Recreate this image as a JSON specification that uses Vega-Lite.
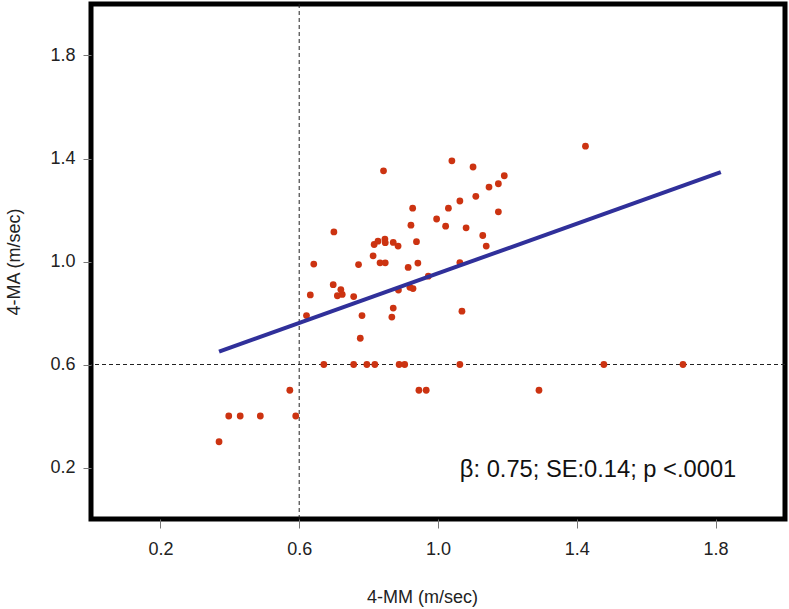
{
  "$schema": "https://vega.github.io/schema/vega-lite/v6.json",
  "width": 694,
  "height": 515,
  "autosize": {"type": "none"},
  "padding": {"left": 91, "top": 4, "right": 4, "bottom": 90},
  "background": "white",
  "config": {
    "view": {"stroke": "black", "strokeWidth": 5},
    "font": "Liberation Sans",
    "axis": {
      "domain": false,
      "grid": false,
      "tickColor": "#777",
      "tickWidth": 1,
      "labelFont": "Liberation Sans",
      "labelFontSize": 18,
      "labelColor": "#222",
      "titleFont": "Liberation Sans",
      "titleFontSize": 18,
      "titleFontWeight": "normal",
      "titleColor": "#222"
    }
  },
  "datasets": {
    "pts": [
      {"mm": 0.369, "ma": 0.30}, {"mm": 0.397, "ma": 0.40}, {"mm": 0.430, "ma": 0.40}, {"mm": 0.488, "ma": 0.40},
      {"mm": 0.573, "ma": 0.50}, {"mm": 0.590, "ma": 0.40}, {"mm": 0.621, "ma": 0.79}, {"mm": 0.632, "ma": 0.87},
      {"mm": 0.642, "ma": 0.99}, {"mm": 0.671, "ma": 0.60}, {"mm": 0.698, "ma": 0.91}, {"mm": 0.700, "ma": 1.115},
      {"mm": 0.710, "ma": 0.867}, {"mm": 0.720, "ma": 0.891}, {"mm": 0.724, "ma": 0.872}, {"mm": 0.757, "ma": 0.60},
      {"mm": 0.757, "ma": 0.864}, {"mm": 0.771, "ma": 0.988}, {"mm": 0.776, "ma": 0.702}, {"mm": 0.781, "ma": 0.790},
      {"mm": 0.795, "ma": 0.60}, {"mm": 0.813, "ma": 1.022}, {"mm": 0.816, "ma": 1.066}, {"mm": 0.818, "ma": 0.60},
      {"mm": 0.827, "ma": 1.079}, {"mm": 0.833, "ma": 0.995}, {"mm": 0.843, "ma": 1.352}, {"mm": 0.847, "ma": 1.087},
      {"mm": 0.848, "ma": 1.073}, {"mm": 0.848, "ma": 0.995}, {"mm": 0.867, "ma": 0.784}, {"mm": 0.871, "ma": 0.819},
      {"mm": 0.871, "ma": 1.074}, {"mm": 0.885, "ma": 1.060}, {"mm": 0.886, "ma": 0.889}, {"mm": 0.888, "ma": 0.60},
      {"mm": 0.904, "ma": 0.60}, {"mm": 0.914, "ma": 0.977}, {"mm": 0.919, "ma": 0.900}, {"mm": 0.928, "ma": 0.895},
      {"mm": 0.922, "ma": 1.141}, {"mm": 0.927, "ma": 1.207}, {"mm": 0.938, "ma": 1.077}, {"mm": 0.942, "ma": 0.994},
      {"mm": 0.945, "ma": 0.50}, {"mm": 0.966, "ma": 0.50}, {"mm": 0.972, "ma": 0.943}, {"mm": 0.996, "ma": 1.165},
      {"mm": 1.022, "ma": 1.137}, {"mm": 1.030, "ma": 1.207}, {"mm": 1.040, "ma": 1.391}, {"mm": 1.063, "ma": 1.235},
      {"mm": 1.063, "ma": 0.996}, {"mm": 1.063, "ma": 0.60}, {"mm": 1.069, "ma": 0.807}, {"mm": 1.081, "ma": 1.131},
      {"mm": 1.101, "ma": 1.367}, {"mm": 1.109, "ma": 1.253}, {"mm": 1.129, "ma": 1.101}, {"mm": 1.139, "ma": 1.060},
      {"mm": 1.147, "ma": 1.289}, {"mm": 1.174, "ma": 1.302}, {"mm": 1.174, "ma": 1.193}, {"mm": 1.191, "ma": 1.333},
      {"mm": 1.291, "ma": 0.50}, {"mm": 1.425, "ma": 1.448}, {"mm": 1.478, "ma": 0.60}, {"mm": 1.706, "ma": 0.60}
    ],
    "fit": [{"mm": 0.369, "ma": 0.650}, {"mm": 1.815, "ma": 1.347}],
    "ref": [{"v": 0.6}],
    "note": [{"mm": 1.063, "ma": 0.19, "label": "β: 0.75; SE:0.14; p <.0001"}]
  },
  "layer": [
    {
      "data": {"name": "ref"},
      "mark": {"type": "rule", "color": "#222", "strokeWidth": 1, "strokeDash": [4, 3]},
      "encoding": {"x": {"field": "v", "type": "quantitative"}}
    },
    {
      "data": {"name": "ref"},
      "mark": {"type": "rule", "color": "#222", "strokeWidth": 1, "strokeDash": [4, 3]},
      "encoding": {"y": {"field": "v", "type": "quantitative"}}
    },
    {
      "data": {"name": "pts"},
      "mark": {"type": "circle", "color": "#CC3311", "opacity": 1, "size": 46},
      "encoding": {
        "x": {
          "field": "mm", "type": "quantitative",
          "scale": {"domain": [0, 2], "nice": false, "zero": false},
          "axis": {"values": [0.2, 0.6, 1.0, 1.4, 1.8], "format": ".1f", "title": "4-MM (m/sec)", "tickSize": 9, "labelPadding": 12, "titlePadding": 30, "titleX": 331}
        },
        "y": {
          "field": "ma", "type": "quantitative",
          "scale": {"domain": [0, 2], "nice": false, "zero": false},
          "axis": {"values": [0.2, 0.6, 1.0, 1.4, 1.8], "format": ".1f", "title": "4-MA (m/sec)", "tickSize": 8, "labelPadding": 8, "titlePadding": 26}
        }
      }
    },
    {
      "data": {"name": "fit"},
      "mark": {"type": "line", "color": "#30309A", "strokeWidth": 4},
      "encoding": {
        "x": {"field": "mm", "type": "quantitative"},
        "y": {"field": "ma", "type": "quantitative"}
      }
    },
    {
      "data": {"name": "note"},
      "mark": {"type": "text", "align": "left", "baseline": "middle", "fontSize": 23.7, "color": "#111", "font": "Liberation Sans"},
      "encoding": {
        "x": {"field": "mm", "type": "quantitative"},
        "y": {"field": "ma", "type": "quantitative"},
        "text": {"field": "label"}
      }
    }
  ]
}
